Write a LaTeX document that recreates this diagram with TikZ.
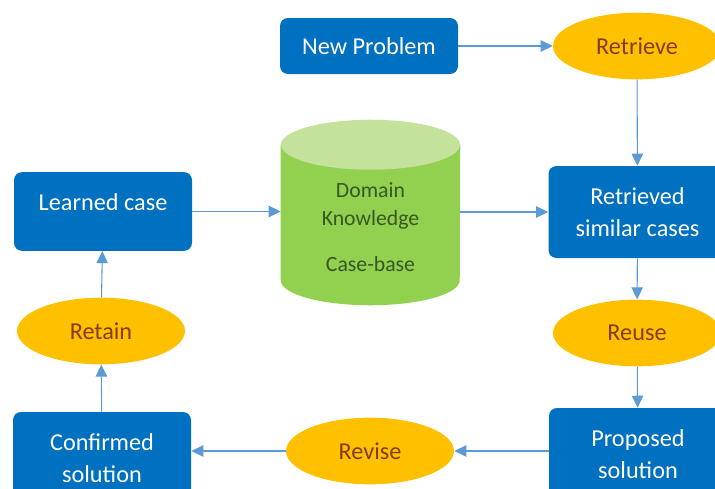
\documentclass[tikz,border=0pt]{standalone}
\usepackage{fontspec}
\setmainfont{Carlito}
\usetikzlibrary{shapes.geometric,arrows.meta}
\definecolor{boxblue}{HTML}{0070C0}
\definecolor{stepgold}{HTML}{FFC000}
\definecolor{stepbrown}{HTML}{843C0C}
\definecolor{kbgreen}{HTML}{92D050}
\definecolor{kbtop}{RGB}{196,226,156}
\definecolor{kbtext}{HTML}{385723}
\definecolor{arrowblue}{HTML}{5B9BD5}
\newcommand{\fs}{\fontsize{18.2}{24}\selectfont}

\begin{document}
\begin{tikzpicture}[x=0.75pt,y=-0.75pt,
    casebox/.style={rectangle,rounded corners=6pt,fill=boxblue,text=white,
      minimum width=133.5pt,minimum height=69pt,align=center,font=\fs},
    phase/.style={ellipse,fill=stepgold,text=stepbrown,
      minimum width=126pt,minimum height=50pt,font=\fs},
    flow/.style={arrowblue,line width=0.8pt,-{Triangle[length=9pt,width=8.5pt]}}]
  \useasboundingbox (0,0) rectangle (715,489);
  \clip (0,0) rectangle (715,489);
  \node[casebox,minimum height=42pt] (np) at (369,46) {New Problem};
  \node[phase] (retrieve) at (637,46) {Retrieve};
  \node[casebox] (rsc) at (637.5,212) {Retrieved\\similar cases};
  \node[phase] (reuse) at (637,333) {Reuse};
  \node[casebox] (ps) at (638,454) {Proposed\\solution};
  \node[phase] (revise) at (370,451) {Revise};
  \node[casebox] (cs) at (102,458) {Confirmed\\solution};
  \node[phase] (retain) at (101,331) {Retain};
  \node[casebox,minimum height=59pt,text depth=14pt] (lc) at (103,211.5) {Learned case};
  \node[inner sep=0pt,minimum width=134.25pt,minimum height=138.75pt] (kb) at (370.5,212.5) {};
  \fill[kbgreen] ([yshift=-18.75pt]kb.north west) -- ([yshift=18.75pt]kb.south west)
    arc[start angle=180,end angle=360,x radius=67.125pt,y radius=18.75pt]
    -- ([yshift=-18.75pt]kb.north east) -- cycle;
  \fill[kbtop] ([yshift=-18.75pt]kb.north) ellipse[x radius=67.125pt,y radius=18.75pt];
  \node[text=kbtext,align=center,font=\fontsize{16.3}{21}\selectfont] (kbt) at (370.5,227)
    {Domain\\Knowledge\\[14pt]Case-base};
  \draw[flow] (np) -- (retrieve);
  \draw[flow] (retrieve) -- (rsc);
  \draw[flow] (lc.east) -- (kb.west |- lc.east);
  \draw[flow] (kb.east |- rsc.west) -- (rsc.west);
  \draw[flow] (rsc) -- (reuse);
  \draw[flow] (reuse) -- (ps);
  \draw[flow] (ps.west |- revise.east) -- (revise.east);
  \draw[flow] (revise.west) -- (revise.west -| cs.east);
  \draw[flow] (cs) -- (retain);
  \draw[flow] (retain) -- (lc);
 \end{tikzpicture}
\end{document}
